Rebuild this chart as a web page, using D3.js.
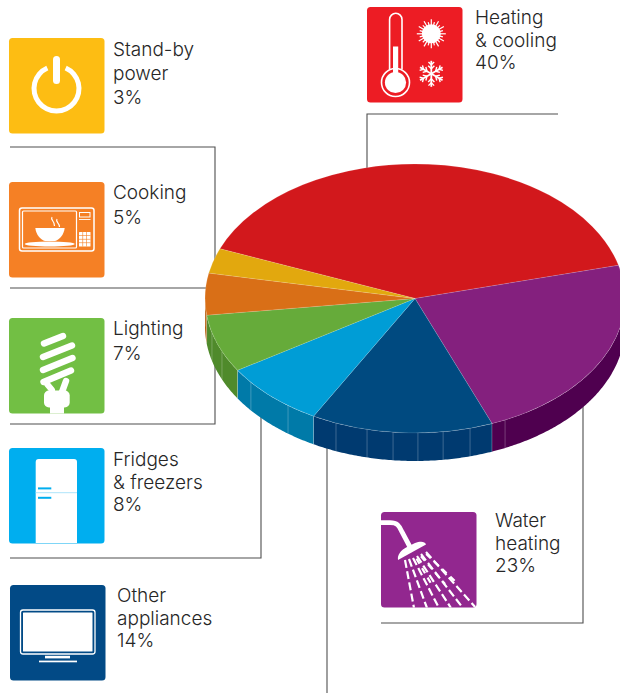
<!DOCTYPE html>
<html>
<head>
<meta charset="utf-8">
<script src="https://cdn.jsdelivr.net/npm/d3@7/dist/d3.min.js"></script>
<style>
html,body{margin:0;padding:0;background:#fff}
svg{display:block}
text{font-family:"Inter","Liberation Sans",sans-serif;font-weight:300;font-size:19px;fill:#262626}
</style>
</head>
<body>
<svg id="chart" width="620" height="693"></svg>
<script>
// Household energy use by end use
const categories = ["Heating & cooling","Water heating","Other appliances","Fridges & freezers","Lighting","Cooking","Stand-by power"];
const values = [40,23,14,8,7,5,3];
const labelLines = [["Heating","& cooling"],["Water","heating"],["Other","appliances"],["Fridges","& freezers"],["Lighting"],["Cooking"],["Stand-by","power"]];
const topColors = ["#d2181c","#84207e","#004a80","#009dd6","#66ab3a","#d96f17","#e2a80e"];
const wallColors = ["#8f1014","#4f004f","#003a70","#007aa8","#4f8a2b","#b5600f","#a87c08"];
const tileColors = ["#ed1c24","#92278f","#024a86","#00aeef","#72bf44","#f58025","#fdbd13"];
// Thin seams on the rim of the disc, in degrees clockwise from the top
const seamAngles = [154.6,164.8,172.3,179.2,186,193.2,202.1,217.2,231.4,246.8,255.2];

const svg = d3.select("#chart");
const cx = 415, cy = 298.5, rx = 210, ry = 134.5, depth = 28;
const rad = Math.PI / 180;
const ex = a => cx + rx * Math.sin(a);
const ey = a => cy - ry * Math.cos(a);

const tiles = [[367,7],[381,512],[10,585],[9,448],[9,318],[9,182],[9,38]];
const textPos = [[475,24],[495,527],[117,602],[113,466],[113,335],[113,199],[113,56]];
const lineSteps = [22.5,22.5,22.5,22.5,24.5,24.5,24];

// Leader lines run underneath the disc
const leaders = [
  [[367,170],[367,114],[558,114]],
  [[583,390],[583,623],[381,623]],
  [[327,440],[327,693]],
  [[261,400],[261,558],[10,558]],
  [[215,340],[215,424],[10,424]],
  [[230,288],[10,288]],
  [[10,147],[215,147],[215,260]]
];
svg.append("g").selectAll("path").data(leaders).join("path")
  .attr("d", d3.line())
  .attr("fill","none").attr("stroke","#4f4f4f").attr("stroke-width",1.1);

const pieData = d3.pie().sort(null).value(d => d)
  .startAngle(-68.3 * rad).endAngle(291.7 * rad)(values);

// Rim of the disc: only the front half is visible
const wallArea = d3.area().x(ex).y0(ey).y1(a => ey(a) + depth);
const wall = svg.append("g");
pieData.forEach((d,i) => {
  const a0 = Math.max(d.startAngle, 90 * rad), a1 = Math.min(d.endAngle, 270 * rad);
  if (a1 <= a0) return;
  const samples = d3.range(a0, a1, 0.01).concat([a1]);
  wall.append("path").attr("d", wallArea(samples)).attr("fill", wallColors[i]);
});
wall.selectAll("line.seam").data(seamAngles.map(a => a * rad)).join("line")
  .attr("class","seam")
  .attr("x1",ex).attr("x2",ex)
  .attr("y1",ey).attr("y2",a => ey(a) + depth)
  .attr("stroke","#fff").attr("stroke-opacity",0.3).attr("stroke-width",0.8);
pieData.filter(d => d.endAngle > 90*rad && d.startAngle < 270*rad).forEach(d => {
  const b = Math.min(d.endAngle, 270*rad);
  wall.append("line").attr("x1",ex(b)).attr("x2",ex(b)).attr("y1",ey(b)).attr("y2",ey(b)+depth)
    .attr("stroke","#fff").attr("stroke-opacity",0.3).attr("stroke-width",0.8);
});

// Top face: a unit pie squashed into an ellipse
const arc = d3.arc().innerRadius(0).outerRadius(1);
svg.append("g").attr("transform",`translate(${cx},${cy}) scale(${rx},${ry})`)
  .selectAll("path").data(pieData).join("path")
  .attr("d",arc)
  .attr("fill",(d,i)=>topColors[i])
  .attr("stroke","#fff").attr("stroke-opacity",0.22)
  .attr("stroke-width",0.6).attr("vector-effect","non-scaling-stroke");

// Tiles and labels
const tileSize = 95.5;
const icon = svg.selectAll("g.tile").data(categories).join("g")
  .attr("class","tile")
  .attr("transform",(d,i)=>`translate(${tiles[i][0]},${tiles[i][1]})`);
icon.append("rect").attr("width",tileSize).attr("height",tileSize).attr("rx",3.5)
  .attr("fill",(d,i)=>tileColors[i]);

svg.selectAll("text.label").data(categories).join("text")
  .attr("class","label")
  .attr("transform",(d,i)=>`translate(${textPos[i][0]},${textPos[i][1]})`)
  .each(function(d,i){
    const t = d3.select(this);
    labelLines[i].concat([values[i]+"%"]).forEach((s,j)=>
      t.append("tspan").attr("x",0).attr("y",j*lineSteps[i]).text(s));
  });

const W = "#fff";
const ln = (g,x1,y1,x2,y2,w,c=W,cap="round") => g.append("line")
  .attr("x1",x1).attr("y1",y1).attr("x2",x2).attr("y2",y2)
  .attr("stroke",c).attr("stroke-width",w).attr("stroke-linecap",cap);
const box = (g,x,y,w,h,r,fill=W) => g.append("rect")
  .attr("x",x).attr("y",y).attr("width",w).attr("height",h).attr("rx",r).attr("fill",fill);
const curve = (g,d,w,c=W,fill="none") => g.append("path")
  .attr("d",d).attr("fill",fill).attr("stroke",c).attr("stroke-width",w);
const tile = i => d3.select(icon.nodes()[i]);

// Thermometer, sun and snowflake
{
  const g = tile(0);
  curve(g,"M22.6 62.5V12.5a6.2 6.2 0 0 1 12.4 0V62.5",1.6);
  g.append("circle").attr("cx",28.5).attr("cy",75.5).attr("r",14).attr("fill","none").attr("stroke",W).attr("stroke-width",1.6);
  g.append("circle").attr("cx",28.5).attr("cy",75.5).attr("r",10.6).attr("fill",W);
  box(g,26,39.5,5.2,30,0);
  const sx = 64.3, sy = 26.8;
  g.append("circle").attr("cx",sx).attr("cy",sy).attr("r",9.5).attr("fill",W);
  d3.range(24).forEach(k=>{
    const a = k*15*rad, r = k%2 ? 12 : 14.5;
    ln(g,sx,sy,sx+r*Math.cos(a),sy+r*Math.sin(a),1.2,W,"butt");
  });
  const fx = 64.3, fy = 66.8;
  d3.range(6).forEach(k=>{
    const a = k*60*rad-Math.PI/2, ca = Math.cos(a), sa = Math.sin(a);
    ln(g,fx,fy,fx+13*ca,fy+13*sa,1.8,W,"butt");
    [[5,4.4],[9,4]].forEach(([m,b])=>{
      [-1,1].forEach(s=>{
        const p = a + s*45*rad;
        ln(g,fx+m*ca,fy+m*sa,fx+m*ca+b*Math.cos(p),fy+m*sa+b*Math.sin(p),1.4,W,"butt");
      });
    });
  });
}
// Shower head
{
  const g = tile(1);
  const clipId = "shower-clip";
  g.append("clipPath").attr("id",clipId).append("rect").attr("width",tileSize).attr("height",tileSize).attr("rx",3.5);
  const c = g.append("g").attr("clip-path",`url(#${clipId})`);
  curve(c,"M0 10.7H9C17 10.7 18 14 21 20L29 35",4.8);
  curve(c,"M17 48L45 32.5C44 29 39 29 34 31L26 35C20 38 16 43 17 48Z",0,W,W);
  const sprays = [[24,48,33,96],[28,47,46,96],[32,46,58,96],[36,44,70,96],[40,42,82,96],[45,40,95,96]];
  sprays.forEach(s=>{
    ln(c,s[0],s[1],s[2],s[3],2.2,W,"butt").attr("stroke-dasharray","8 3.4");
  });
  [[34,44,52,75],[38,42,64,72],[43,40,75,70]].forEach(s=>{
    ln(c,s[0],s[1],s[2],s[3],2.2,W,"butt").attr("stroke-dasharray","6 5").attr("stroke-dashoffset",-3);
  });
}
// Television
{
  const g = tile(2);
  g.append("rect").attr("x",10.5).attr("y",25).attr("width",74.5).attr("height",44).attr("rx",2.5)
    .attr("fill","none").attr("stroke",W).attr("stroke-width",1.3);
  box(g,13,27.5,69.5,39,0.5);
  box(g,35,70.8,25,2.6,0);
  box(g,29,75.6,38,1.7,0);
}
// Fridge
{
  const g = tile(3);
  curve(g,"M26.7 95V14a3 3 0 0 1 3-3H65a3 3 0 0 1 3 3V95Z",0,W,W);
  ln(g,26.7,44.7,68,44.7,1,"#aee4fa","butt");
  ln(g,29,40.4,42.3,40.4,2,"#00aeef","butt");
  ln(g,29,49.8,42.3,49.8,2,"#00aeef","butt");
}
// Spiral lamp
{
  const g = tile(4);
  [[35,25.5,54,18],[34,39,63,27.5],[34,52,63.5,40],[34.5,64,62,52.5]].forEach(s=>ln(g,s[0],s[1],s[2],s[3],6.4));
  ln(g,43,72,38,66,6);
  ln(g,53,74,57,63,6.5);
  box(g,35,72.5,25.7,17,5);
  box(g,41,86,14,9.5,0);
}
// Microwave with a steaming bowl
{
  const g = tile(5);
  g.append("rect").attr("x",10.5).attr("y",26).attr("width",74.5).attr("height",43).attr("rx",2.5)
    .attr("fill","none").attr("stroke",W).attr("stroke-width",1.5);
  g.append("rect").attr("x",13.5).attr("y",29).attr("width",54).attr("height",37).attr("rx",1)
    .attr("fill","none").attr("stroke",W).attr("stroke-width",1.2);
  box(g,70,30,11.5,5.5,0);
  const orange = tileColors[5];
  box(g,71,31,9.5,3.5,0,orange);
  box(g,70,37,11.5,.9,0);
  box(g,70,50,11.5,14.5,0.5);
  d3.range(1,3).forEach(k=>box(g,70+k*3.8-0.3,50,.6,14.5,0,orange));
  d3.range(1,4).forEach(k=>box(g,70,50+k*3.6-0.3,11.5,.6,0,orange));
  curve(g,"M26.3 46H55.7C55 53 50 58 46 59H36C32 58 27 53 26.3 46Z",0,W,W);
  g.append("ellipse").attr("cx",40.7).attr("cy",62).attr("rx",25).attr("ry",2.4).attr("fill",W);
  curve(g,"M43 35C41 38 46 39 45.5 44",1.2);
  curve(g,"M48 37C46 40 51 41 50.5 45",1.2);
}
// Stand-by symbol
{
  const g = tile(6);
  g.append("path").attr("transform","translate(47.5,50.5)")
    .attr("d",d3.arc().innerRadius(20).outerRadius(25).startAngle(0.42).endAngle(2*Math.PI-0.42)())
    .attr("fill",W);
  ln(g,47.5,21.5,47.5,42.5,7);
}
</script>
</body>
</html>
